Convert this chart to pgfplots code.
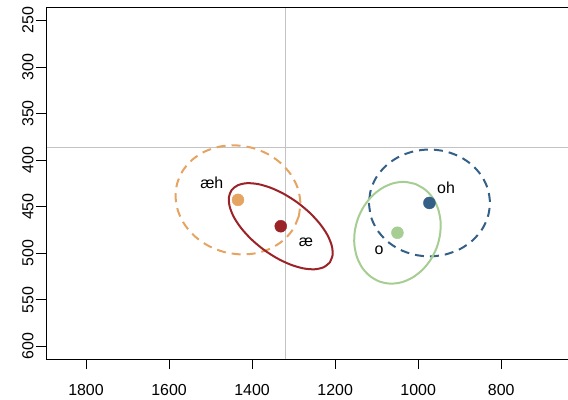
\documentclass[border=0pt]{standalone}
\usepackage{fontspec}
\setmainfont{Liberation Sans}
\usepackage{pgfplots}
\pgfplotsset{compat=1.18}
\definecolor{cOr}{RGB}{230,164,99}
\definecolor{cRed}{RGB}{155,34,38}
\definecolor{cBlue}{RGB}{52,96,135}
\definecolor{cGreen}{RGB}{166,205,146}
\definecolor{cGray}{RGB}{195,195,195}
\begin{document}
\begin{tikzpicture}
\begin{axis}[
  at={(0,0)}, anchor=south west,
  scale only axis, width=522bp, height=352bp,
  x dir=reverse, y dir=reverse,
  xmin=639.3, xmax=1896.3, ymin=235.7, ymax=613.5,
  xtick={800,1000,...,1800}, ytick={250,300,...,600},
  axis line style={draw=none},
  tick pos=left, tick align=outside,
  major tick length=10bp,
  every tick/.style={black, line width=0.8bp},
  /pgf/number format/assume math mode=true,
  /pgf/number format/1000 sep={},
  tick label style={font=\fontsize{16}{19}\selectfont},
  xticklabel style={yshift=-12bp},
  yticklabel style={rotate=90, anchor=south, xshift=0bp, yshift=-1bp},
]
\addplot[cGray, line width=0.9bp] coordinates {(1320,235.7) (1320,613.5)};
\addplot[cGray, line width=0.9bp] coordinates {(639.3,386) (1896.3,386)};
% aeh ellipse
\addplot[cOr, line width=2bp, dash pattern=on 9bp off 6bp, smooth] coordinates {
(1287.5,460.2) (1301.2,474.1) (1324.0,485.8) (1354.2,494.6) (1389.9,499.9) (1428.6,501.2)
(1467.7,498.6) (1504.5,492.2) (1536.4,482.4) (1561.4,469.9) (1577.7,455.5) (1584.2,440.3)
(1580.5,425.2) (1566.8,411.3) (1544.0,399.6) (1513.8,390.8) (1478.1,385.5) (1439.4,384.2)
(1400.3,386.8) (1363.5,393.2) (1331.6,403.0) (1306.6,415.5) (1290.3,429.9) (1283.8,445.1)
(1287.5,460.2)};
% ae ellipse
\addplot[cRed, line width=2bp, smooth] coordinates {
(1212.9,509.9) (1227.7,515.0) (1249.5,517.2) (1276.8,516.2) (1307.9,512.1) (1340.5,505.2)
(1372.5,496.0) (1401.6,485.1) (1426.0,473.2) (1443.9,461.2) (1454.0,449.8) (1455.8,439.9)
(1449.1,432.1) (1434.3,427.0) (1412.5,424.8) (1385.2,425.8) (1354.1,429.9) (1321.5,436.8)
(1289.5,446.0) (1260.4,456.9) (1236.0,468.8) (1218.1,480.8) (1208.0,492.2) (1206.2,502.1)
(1212.9,509.9)};
% oh ellipse
\addplot[cBlue, line width=2bp, dash pattern=on 9bp off 6bp, smooth] coordinates {
(1118.7,446) (1113.7,460.9) (1099.2,474.7) (1076.0,486.6) (1045.9,495.7) (1010.7,501.4)
(973,503.4) (935.3,501.4) (900.1,495.7) (870.0,486.6) (846.8,474.7) (832.3,460.9)
(827.3,446) (832.3,431.1) (846.8,417.3) (870.0,405.4) (900.1,396.3) (935.3,390.6)
(973,388.6) (1010.7,390.6) (1045.9,396.3) (1076.0,405.4) (1099.2,417.3) (1113.7,431.1)
(1118.7,446)};
% o ellipse
\addplot[cGreen, line width=2bp, smooth] coordinates {
(1007.2,425.6) (984.1,431.4) (965.4,440.3) (952.6,451.8) (946.3,465.1) (947.2,479.3)
(955.0,493.4) (969.3,506.4) (989.1,517.5) (1013.1,525.9) (1039.6,531.1) (1066.8,532.6)
(1092.8,530.4) (1115.9,524.6) (1134.6,515.7) (1147.4,504.2) (1153.7,490.9) (1152.8,476.7)
(1145.0,462.6) (1130.7,449.6) (1110.9,438.5) (1086.9,430.1) (1060.4,424.9) (1033.2,423.4)
(1007.2,425.6)};
% means
\addplot[only marks, mark=*, mark size=6bp, cOr, mark options={draw=cOr, fill=cOr}] coordinates {(1434,442.7)};
\addplot[only marks, mark=*, mark size=6bp, cRed, mark options={draw=cRed, fill=cRed}] coordinates {(1331,471)};
\addplot[only marks, mark=*, mark size=6bp, cBlue, mark options={draw=cBlue, fill=cBlue}] coordinates {(973,446)};
\addplot[only marks, mark=*, mark size=6bp, cGreen, mark options={draw=cGreen, fill=cGreen}] coordinates {(1050,478)};
\node[font=\fontsize{16}{19}\selectfont] at (axis cs:1497,424.5) {æh};
\node[font=\fontsize{16}{19}\selectfont] at (axis cs:1270,488) {æ};
\node[font=\fontsize{16}{19}\selectfont] at (axis cs:933,430) {oh};
\node[font=\fontsize{16}{19}\selectfont] at (axis cs:1094,497) {o};
\draw[black, line width=0.8bp] (axis description cs:1,1) -- (axis description cs:0,1) -- (axis description cs:0,0) -- (axis description cs:1,0);
\end{axis}
\pgfresetboundingbox
\path (-46bp,-41bp) rectangle (522bp,359bp);
\end{tikzpicture}
\end{document}
